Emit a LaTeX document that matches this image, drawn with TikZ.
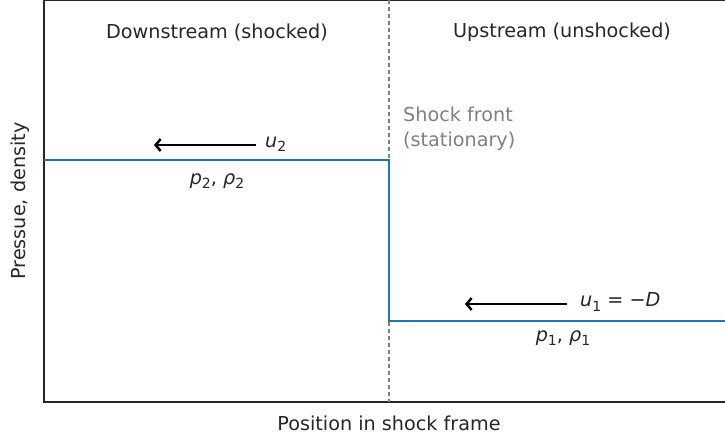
\documentclass[tikz,border=0pt]{standalone}
\usepackage{fontspec}
\setmainfont{DejaVu Sans}
\usetikzlibrary{arrows.meta}
\definecolor{mplblue}{HTML}{1F77B4}
\definecolor{txt}{HTML}{262626}
\newcommand\sub[2]{\textit{#1}\raisebox{-0.22em}{\fontsize{14}{14}\selectfont #2}}
\tikzset{
  lbl/.style={font=\fontsize{19.2}{24}\selectfont, text=txt, inner sep=0pt},
  glbl/.style={font=\fontsize{19.2}{25}\selectfont, text=gray, inner sep=0pt, align=left},
  flow/.style={line width=2.5pt, -{Straight Barb[length=5pt,width=12pt]}},
  prof/.style={mplblue, line width=2pt},
  spine/.style={line width=1.3pt, black!85}
}
\begin{document}
\begin{tikzpicture}[x=1pt,y=-1pt]
\useasboundingbox (0,0) rectangle (725,440);
% axes
\coordinate (tl) at (44,0.6);
\coordinate (bl) at (44,402);
\coordinate (br) at (725,402);
\coordinate (tr) at (725,0.6);
\draw[spine] (tr) -- (tl) -- (bl) -- (br);
% shock front
\coordinate (st) at (389,0);
\coordinate (sb) at (389,402);
\draw[gray, line width=1.3pt, dash pattern=on 4pt off 3pt] (st) -- (sb);
% profile
\coordinate (p0) at (44,160);
\coordinate (p1) at (389,160);
\coordinate (p2) at (389,321);
\coordinate (p3) at (725,321);
\draw[prof] (p0) -- (p1) -- (p2) -- (p3);
% labels
\node[lbl] (down) at (217,32) {Downstream (shocked)};
\node[lbl] (up) at (562,32) {Upstream (unshocked)};
\node[glbl, anchor=west] (sf) at (403,129) {Shock front\\(stationary)};
% arrows
\coordinate (a2s) at (256,145);
\coordinate (a2e) at (154,145);
\draw[flow] (a2s) -- (a2e);
\node[lbl, anchor=west] (u2) at (265,144) {\sub{u}{2}};
\node[lbl] (pr2) at (217,181) {\sub{p}{2}, \sub{ρ}{2}};
\coordinate (a1s) at (567,304);
\coordinate (a1e) at (465,304);
\draw[flow] (a1s) -- (a1e);
\node[lbl, anchor=west] (u1) at (580,302) {\sub{u}{1} = −\textit{D}};
\node[lbl] (pr1) at (563,338) {\sub{p}{1}, \sub{ρ}{1}};
% axis labels
\node[lbl] (xl) at (389,423) {Position in shock frame};
\node[lbl, rotate=90] (yl) at (20,201) {Pressue, density};
\end{tikzpicture}
\end{document}
